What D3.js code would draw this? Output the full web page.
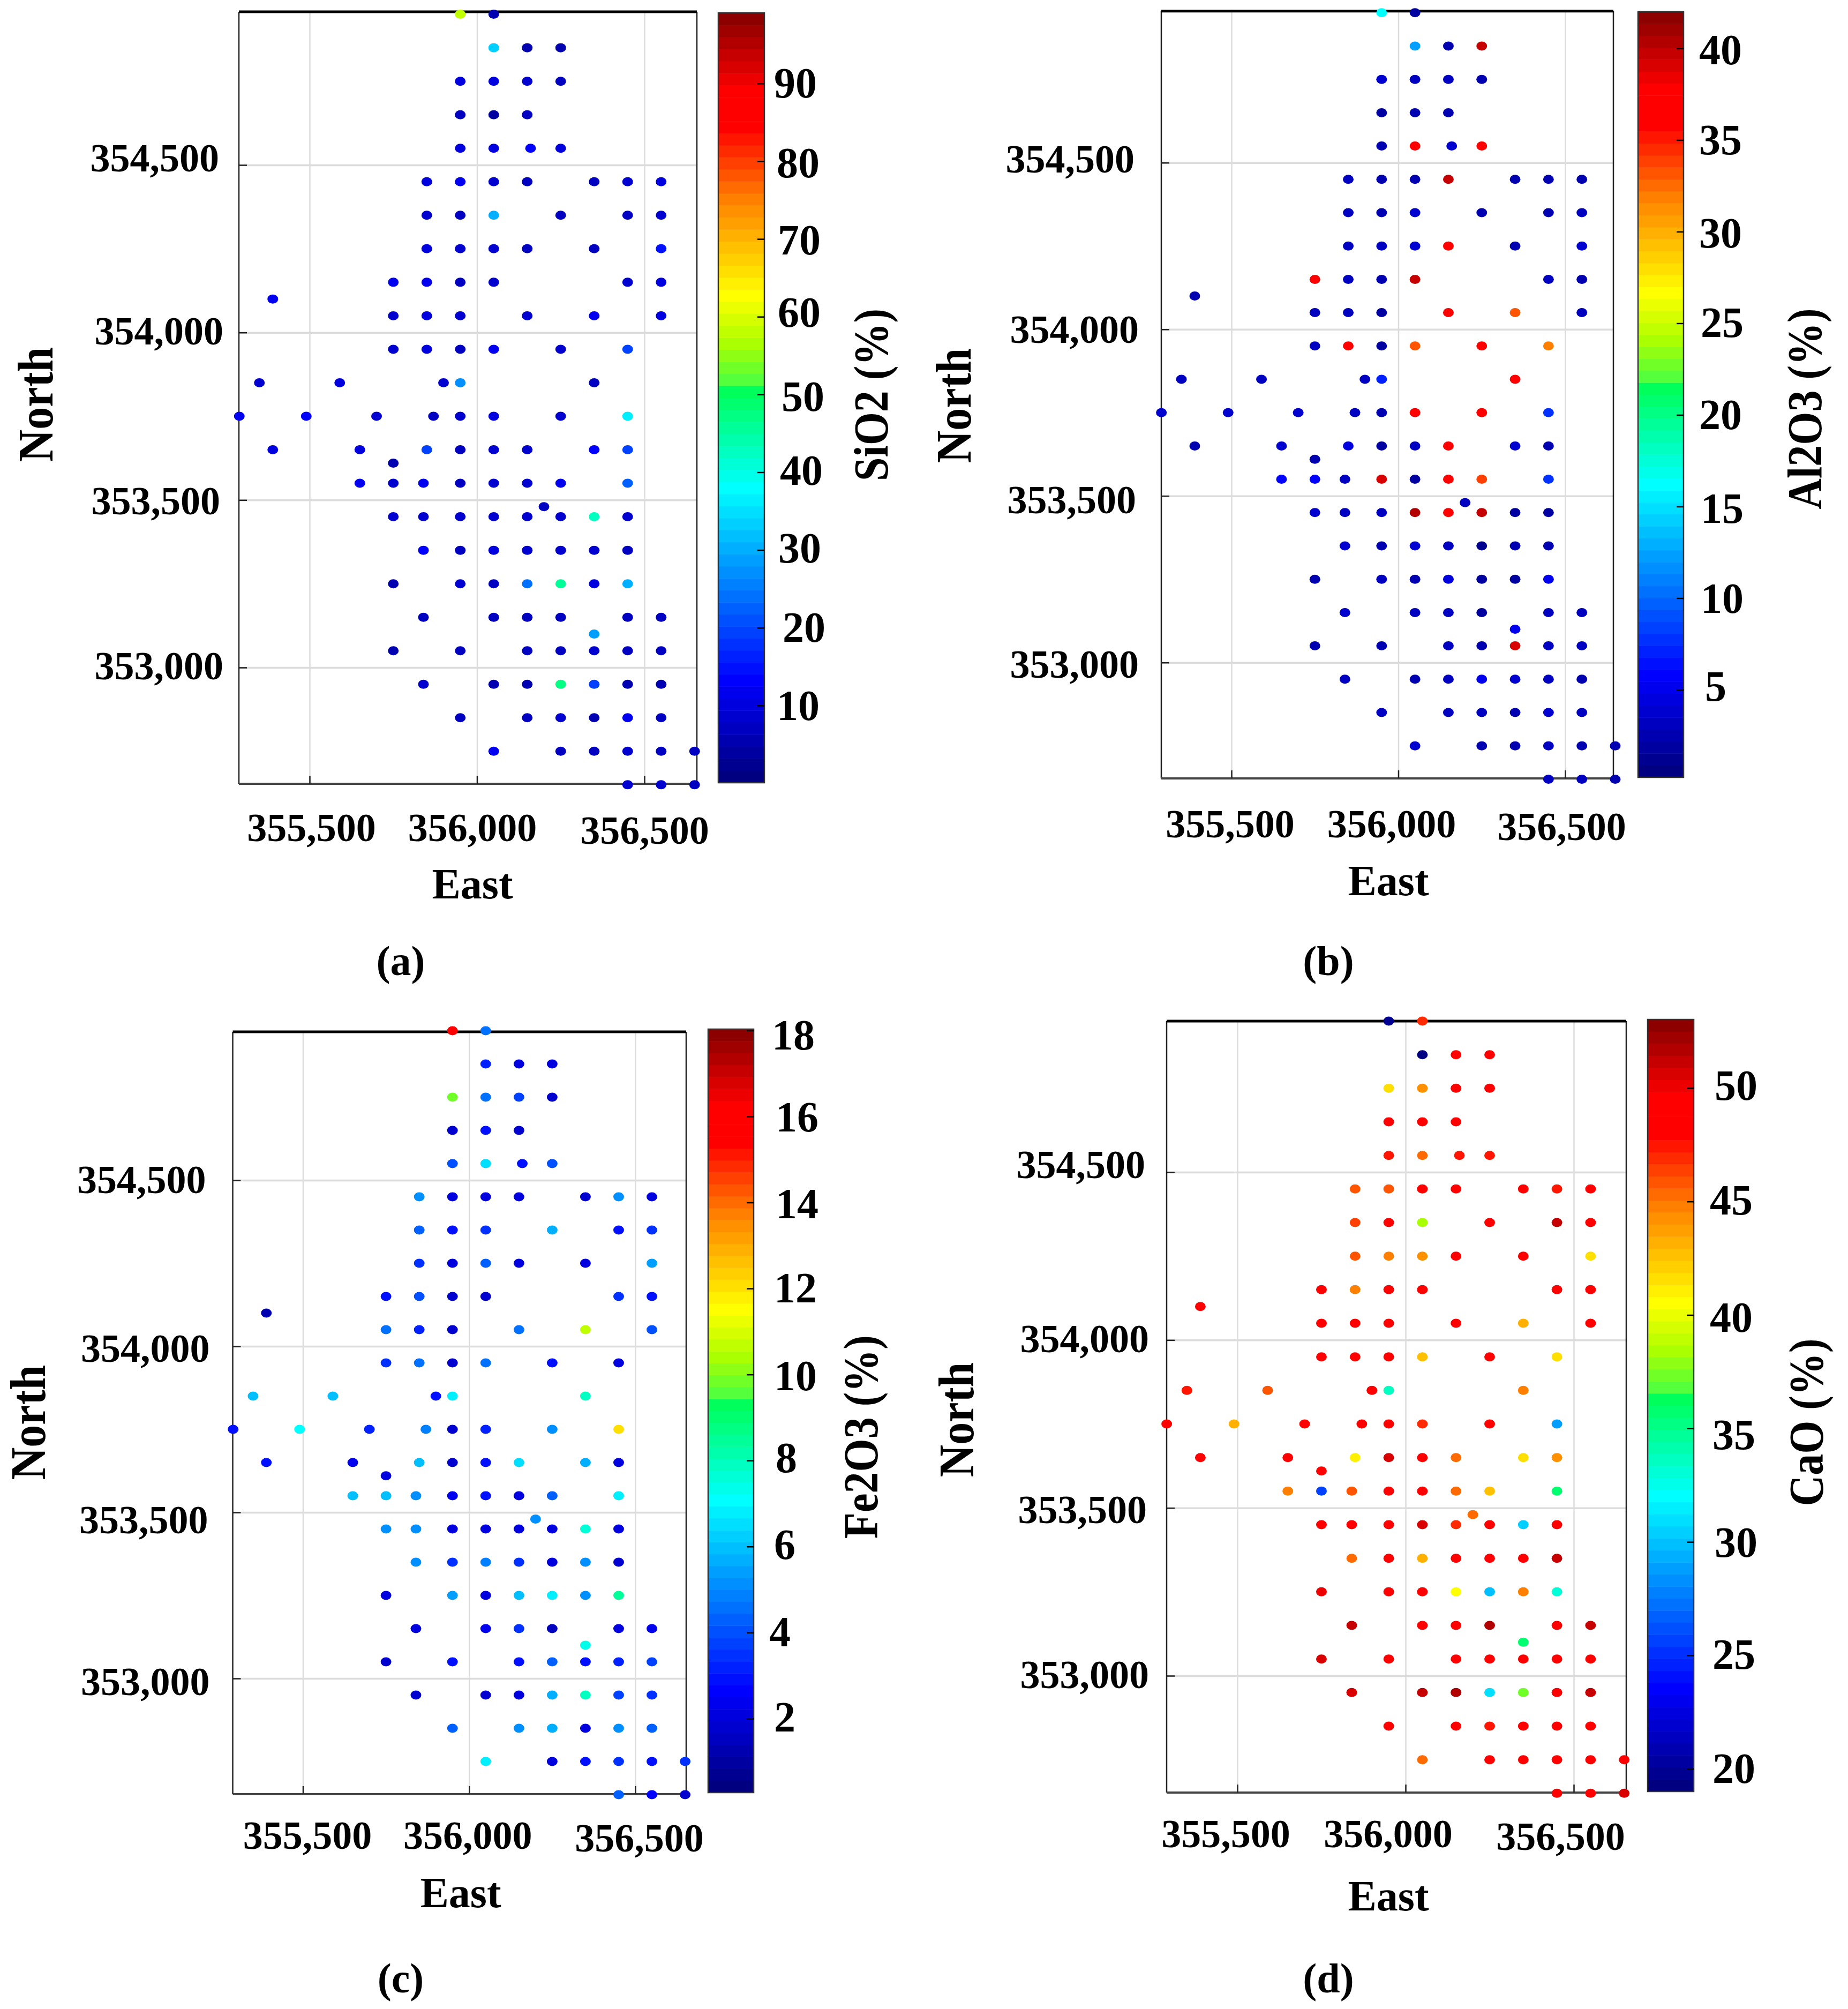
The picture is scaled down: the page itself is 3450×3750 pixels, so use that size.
<!DOCTYPE html>
<html>
<head>
<meta charset="utf-8">
<script src="https://cdn.jsdelivr.net/npm/d3@7"></script>
<style>
  html, body { margin: 0; padding: 0; background: #fff; }
  text { font-family: "Liberation Serif", serif; font-weight: bold; fill: #000; }
</style>
</head>
<body>
<svg id="chart" width="3450" height="3750"></svg>
<script>
// sample rows, north to south
const rowNorth = [354950,354850,354750,354650,354550,354450,354350,354250,354150,354100,354050,353950,353850,353750,353650,353610,353550,353480,353450,353350,353250,353150,353100,353050,352950,352850,352750,352650]
const rowEast = [
  [355950,356050],
  [356050,356150,356250],
  [355950,356050,356150,356250],
  [355950,356050,356150],
  [355950,356050,356160,356250],
  [355850,355950,356050,356150,356350,356450,356550],
  [355850,355950,356050,356250,356450,356550],
  [355850,355950,356050,356150,356350,356550],
  [355750,355850,355950,356050,356450,356550],
  [355390],
  [355750,355850,355950,356150,356350,356550],
  [355750,355850,355950,356050,356250,356450],
  [355350,355590,355900,355950,356350],
  [355290,355490,355700,355870,355950,356050,356250,356450],
  [355390,355650,355850,355950,356050,356150,356350,356450],
  [355750],
  [355650,355750,355840,355950,356050,356150,356250,356450],
  [356200],
  [355750,355840,355950,356050,356150,356250,356350,356450],
  [355840,355950,356050,356150,356250,356350,356450],
  [355750,355950,356050,356150,356250,356350,356450],
  [355840,356050,356150,356250,356450,356550],
  [356350],
  [355750,355950,356150,356250,356350,356450,356550],
  [355840,356050,356150,356250,356350,356450,356550],
  [355950,356150,356250,356350,356450,356550],
  [356050,356250,356350,356450,356550,356650],
  [356450,356550,356650]
]

// percentages, same row order as rowEast
const sio2 = [
  [58,5],[34,5,5],[10,10,8,7],[7,4.5,7],[10,10,13,10],
  [10,11,9,7,7,9,10],[8,7,30,7,7,9],[10,9,9,7,7,15],[11,11,7,8,8,10],[12],
  [9,10,9,9,11,10],[8,10,7,11,9,20],[9,10,8,27,7],[12,13,9,7,8,10,8,37],[10,10,19,7,9,9,13,20],
  [5],[12,8,11,7,9,9,11,23],[7],[8,9,8,8,8,8,42,9],[13,7,10,8,8,8,7],
  [5,9,7,24,45,10,31],[7,7,7,7,7,7],[28],[5,7,7,7,8,7,7],[8,5,5,48,20,5,5],
  [7,7,9,5,11,7],[12,7,7,8,7,7],[9,8,7]
]
const al2o3 = [
  [16,2],[12,2.5,40],[3.5,3,3,2.5],[2,2.5,2.5],[2.5,36,3.5,36],
  [3,2.5,2.5,40,2.5,2.5,2.5],[3,2.5,3.5,2.5,2.5,3],[3,3,3.5,38,2.5,4],[38,3,2.5,40,3,2.5],[2.5],
  [3,3,2,37,33,3],[3,36,2,33.5,36.5,32],[3,3,3,7,35.5],[3.5,3.5,3.5,3,2.5,36,36,8],[2.5,3.5,4.5,2,3,36.5,3.5,2.5],
  [2.5],[5.5,5.5,3,39,2,36.5,34,8],[3],[3.5,3,3,40.5,36.5,40,2,2],[3.5,2.5,3.5,3,1.5,2.5,2.5],
  [2.5,3,2.5,4.5,2,2,5],[3.5,3,3,2,3,3],[5],[2.5,2.5,3,2.5,39,3,3],[3,2.5,3,5,3.5,3,2.5],
  [3,3,3,2.5,3.5,3],[3.5,2.5,2.5,3,2.5,2.5],[3,3,2.5]
]
const fe2o3 = [
  [15.8,4.5],[3.3,2,2],[9.8,4.6,3.8,1.8],[1.8,3,1.8],[4,6.5,3,4],
  [5,2.2,2,2.2,1.8,5,2.2],[4.2,3,3.6,5.6,2.8,3.4],[3.4,2.2,4.4,2.2,2,5.4],[3,4,1.8,1.8,3.4,3],[1.3],
  [4.6,3.2,1.8,4.6,10.8,4],[3.4,4.6,1.8,4.6,2.8,2.2],[6,6,3,6.8,7.8],[2.8,7.2,3.2,4.8,1.8,3.3,5.2,12],[3,2.4,6,1.8,3,6.6,5.7,2],
  [2.2],[6,6,5.2,2.4,2.8,2,4.4,6.8],[5.2],[5.2,5,2.2,2.2,2.2,2.2,7.6,2],[5,3.6,4.8,3.6,2,5,1.8],
  [2,5.4,2.2,6,6.8,5.2,8.4],[2,2.4,3.4,1.4,2.2,2.4],[7.4],[1.8,3,3,4.2,3,3.2,3.8],[1.8,1.8,2,5.6,7.8,3.8,3.6],
  [4.2,5,5.8,2,5,4.2],[6.8,2,3,3.6,3,3.4],[4.2,2.6,1.8]
]
const cao = [
  [19.8,47],[19.5,49.5,49.5],[41.5,44.5,48,49],[48.5,48.5,49.5],[47.5,45.5,47.5,47.5],
  [46,46,48,48.5,48.5,47.5,49],[46.5,49,38.5,49,51,49],[46,45,44.5,49,48.5,41.5],[48.5,45,48.5,49.5,48,48.5],[48.5],
  [48,49,49.5,49,43,49.5],[48.5,48,48.5,42.5,48.5,41.5],[47.5,46,48,33.5,45],[48.5,43,49.5,48.5,49,47,49,29],[48.5,49,41,50.5,49,45.5,41.5,44],
  [49],[45,25.5,46,49,49,45.5,42.5,35.5],[45.5],[49,49,49,50.5,47,49.5,30.5,48],[45.5,48.5,43,49,49,48,51],
  [50,48,49,40.5,30,45,33],[51,49,49,51.5,49,51],[36],[50.5,49.5,49.5,49.5,49,49,49.5],[50.5,51,51.5,31,37.5,49,51],
  [49.5,49,47.5,49,48.5,49.5],[45.5,49.5,49.5,49.5,49.5,49.5],[49.5,49.5,50.5]
]

const eastTicks = [355500,356000,356500]
const northTicks = [353000,353500,354000,354500]
const sio2Ticks = [10,20,30,40,50,60,70,80,90]
const al2o3Ticks = [5,10,15,20,25,30,35,40]
const fe2o3Ticks = [2,4,6,8,10,12,14,16,18]
const caoTicks = [20,25,30,35,40,45,50]

const paletteStops = [0,8,24,32,33,36,40,48,54,57,63]
const paletteColors = ["rgb(0,0,128)","rgb(0,0,255)","rgb(0,255,255)","rgb(0,255,90)","rgb(85,255,60)","rgb(170,255,0)","rgb(255,255,0)","rgb(255,128,0)","rgb(255,0,0)","rgb(255,0,0)","rgb(140,0,0)"]
const paletteScale = d3.scaleLinear().domain(paletteStops).range(paletteColors)
const jet64 = d3.range(64).map(i => paletteScale(i))

// hand placed layout, the four pictures are not aligned with each other
const panels = [
  {letter:"(a)", label:"SiO2 (%)", values:sio2, ticks:sio2Ticks, domain:[0.07,99.08],
   frame:{l:446,r:1301,t:22,b:1463}, grid:{x:[578,1203], y:[1246,308]},
   bar:{l:1341,r:1427,t:24,b:1461},
   north:[66,755], east:[882,1677], barLabel:[1626,737], caption:[748,1793],
   xNudge:[3,-9,0], xBase:1570, yNudge:[[-29,-4],[-35,1],[-29,-3],[-37,-14]],
   barNudge:[[3,1],[14,0],[6,-3],[9,-3],[12,5],[5,-7],[5,3],[3,4],[-2,0]]},
  {letter:"(b)", label:"Al2O3 (%)", values:al2o3, ticks:al2o3Ticks, domain:[0.22,42],
   frame:{l:2168,r:3012,t:20.7,b:1453}, grid:{x:[2299,2922], y:[1236.7,303.7]},
   bar:{l:3058,r:3143,t:22,b:1451},
   north:[1780,757], east:[2592,1671], barLabel:[3369,763], caption:[2480,1793],
   xNudge:[-3,-13,-7], xBase:1563, yNudge:[[-42,3],[-47,7],[-42,0],[-50,-7]],
   barNudge:[[20,-6],[12,1],[12,4],[9,0],[12,-1],[9,3],[9,0],[9,3]]},
  {letter:"(c)", label:"Fe2O3 (%)", values:fe2o3, ticks:fe2o3Ticks, domain:[0.28,18.03],
   frame:{l:434.5,r:1281,t:1926,b:3349}, grid:{x:[565.5,1186], y:[3133,2203]},
   bar:{l:1322,r:1407,t:1921,b:3346},
   north:[52,2655], east:[860,3560], barLabel:[1607,2682], caption:[748,3692],
   xNudge:[8,-3,7], xBase:3451, yNudge:[[-43,5],[-46,13],[-43,3],[-50,-2]],
   barNudge:[[18,-2],[9,0],[18,-3],[21,-4],[18,3],[18,0],[21,3],[21,2],[14,9]]},
  {letter:"(d)", label:"CaO (%)", values:cao, ticks:caoTicks, domain:[19,53.02],
   frame:{l:2178,r:3036,t:1906,b:3346}, grid:{x:[2310,2938], y:[3128,2188]},
   bar:{l:3076,r:3162,t:1903,b:3344},
   north:[1785,2650], east:[2592,3566], barLabel:[3372,2655], caption:[2480,3692],
   xNudge:[-22,-33,-25], xBase:3448, yNudge:[[-33,-3],[-37,3],[-33,-3],[-40,-15]],
   barNudge:[[15,0],[15,-1],[19,2],[15,13],[10,5],[10,-2],[19,-4]]}
]

let svg = d3.select("#chart")

function draw_panel(p){
    let xScale = d3.scaleLinear().domain([355500,356500]).range(p.grid.x)
    let yScale = d3.scaleLinear().domain([353000,354500]).range(p.grid.y)
    let barScale = d3.scaleLinear().domain(p.domain).range([p.bar.b,p.bar.t])
    let colorScale = d3.scaleQuantize().domain(p.domain).range(jet64)

    let axis = svg.append("g")
    let w = p.frame.r-p.frame.l, h = p.frame.b-p.frame.t

    // grid
    axis.append("g").attr("transform",`translate(0,${p.frame.b})`)
        .call(d3.axisBottom(xScale).tickValues(eastTicks).tickSize(-h).tickFormat(""))
        .call(g => g.select(".domain").remove())
        .selectAll("line").attr("stroke","#dcdcdc").attr("stroke-width",2.5)
    axis.append("g").attr("transform",`translate(${p.frame.l},0)`)
        .call(d3.axisLeft(yScale).tickValues(northTicks).tickSize(-w).tickFormat(""))
        .call(g => g.select(".domain").remove())
        .selectAll("line").attr("stroke","#dcdcdc").attr("stroke-width",3.5)

    // frame
    axis.append("line").attr("x1",p.frame.l).attr("x2",p.frame.l).attr("y1",p.frame.t).attr("y2",p.frame.b).attr("stroke","#222").attr("stroke-width",2.5)
    axis.append("line").attr("x1",p.frame.r).attr("x2",p.frame.r).attr("y1",p.frame.t).attr("y2",p.frame.b).attr("stroke","#222").attr("stroke-width",2.5)
    axis.append("line").attr("x1",p.frame.l).attr("x2",p.frame.r).attr("y1",p.frame.t).attr("y2",p.frame.t).attr("stroke","#000").attr("stroke-width",5)
    axis.append("line").attr("x1",p.frame.l).attr("x2",p.frame.r).attr("y1",p.frame.b).attr("y2",p.frame.b).attr("stroke","#444").attr("stroke-width",4)

    // tick axes, the scanned labels sit a little off their ticks
    let x_axis = d3.axisBottom(xScale).tickValues(eastTicks).tickSizeInner(-15).tickSizeOuter(0).tickFormat(d3.format(","))
    let gx = axis.append("g").attr("transform",`translate(0,${p.frame.b})`).call(x_axis)
    gx.select(".domain").remove()
    gx.selectAll("line").attr("stroke","#222").attr("stroke-width",2.5)
    gx.selectAll("text").attr("font-size",74).attr("font-family",null)
        .attr("y",d => p.xBase-p.frame.b+(d===356500 ? 5 : 0)).attr("dy",null)
        .attr("dx",(d,i) => p.xNudge[i])

    let y_axis = d3.axisLeft(yScale).tickValues(northTicks).tickSizeInner(-15).tickSizeOuter(0).tickFormat(d3.format(","))
    let gy = axis.append("g").attr("transform",`translate(${p.frame.l},0)`).call(y_axis)
    gy.select(".domain").remove()
    gy.selectAll("line").attr("stroke","#222").attr("stroke-width",2.5)
    gy.selectAll("text").attr("font-size",74).attr("font-family",null)
        .attr("x",(d,i) => p.yNudge[i][0]).attr("y",(d,i) => p.yNudge[i][1]).attr("dy",".34em")

    // markers
    let points = d3.merge(rowNorth.map((n,r) => rowEast[r].map((e,c) => ({e:e, n:n, v:p.values[r][c]}))))
    axis.selectAll(".markers")
        .data(points)
        .enter()
        .append("ellipse")
        .attr("cx",d => xScale(d.e))
        .attr("cy",d => yScale(d.n))
        .attr("rx",10).attr("ry",8.5)
        .attr("fill",d => colorScale(d.v))

    // colorbar, one rect per level
    let edges = [p.domain[0], ...colorScale.thresholds(), p.domain[1]]
    axis.selectAll(".levels")
        .data(jet64)
        .enter()
        .append("rect")
        .attr("x",p.bar.l)
        .attr("width",p.bar.r-p.bar.l)
        .attr("y",(d,i) => barScale(edges[i+1]))
        .attr("height",(d,i) => barScale(edges[i])-barScale(edges[i+1])+.5)
        .attr("fill",d => d)
    axis.append("rect").attr("x",p.bar.l).attr("y",p.bar.t)
        .attr("width",p.bar.r-p.bar.l).attr("height",p.bar.b-p.bar.t)
        .attr("fill","none").attr("stroke","#333").attr("stroke-width",2.5)

    let bar_axis = d3.axisRight(barScale).tickValues(p.ticks).tickSizeInner(-13).tickSizeOuter(0).tickPadding(20)
    let gb = axis.append("g").attr("transform",`translate(${p.bar.r},0)`).call(bar_axis)
    gb.select(".domain").remove()
    gb.selectAll("line").attr("stroke","#000").attr("stroke-width",2.5)
    gb.selectAll("text").attr("font-size",80).attr("font-family",null)
        .attr("dx",(d,i) => p.barNudge[i][0]).attr("y",(d,i) => p.barNudge[i][1])

    // labels
    axis.append("text").attr("text-anchor","middle").attr("font-size",84).attr("dy",".34em")
        .attr("transform",`translate(${p.north[0]},${p.north[1]}) rotate(-90) scale(1,1.12)`).text("North")
    axis.append("text").attr("text-anchor","middle").attr("font-size",80)
        .attr("x",p.east[0]).attr("y",p.east[1]).text("East")
    axis.append("text").attr("text-anchor","middle").attr("font-size",80).attr("dy",".34em")
        .attr("transform",`translate(${p.barLabel[0]},${p.barLabel[1]}) rotate(-90) scale(1,1.15)`).text(p.label)
    axis.append("text").attr("text-anchor","middle").attr("font-size",78).attr("dy",".34em")
        .attr("x",p.caption[0]).attr("y",p.caption[1]).text(p.letter)
}

panels.forEach(draw_panel)
</script>
</body>
</html>
